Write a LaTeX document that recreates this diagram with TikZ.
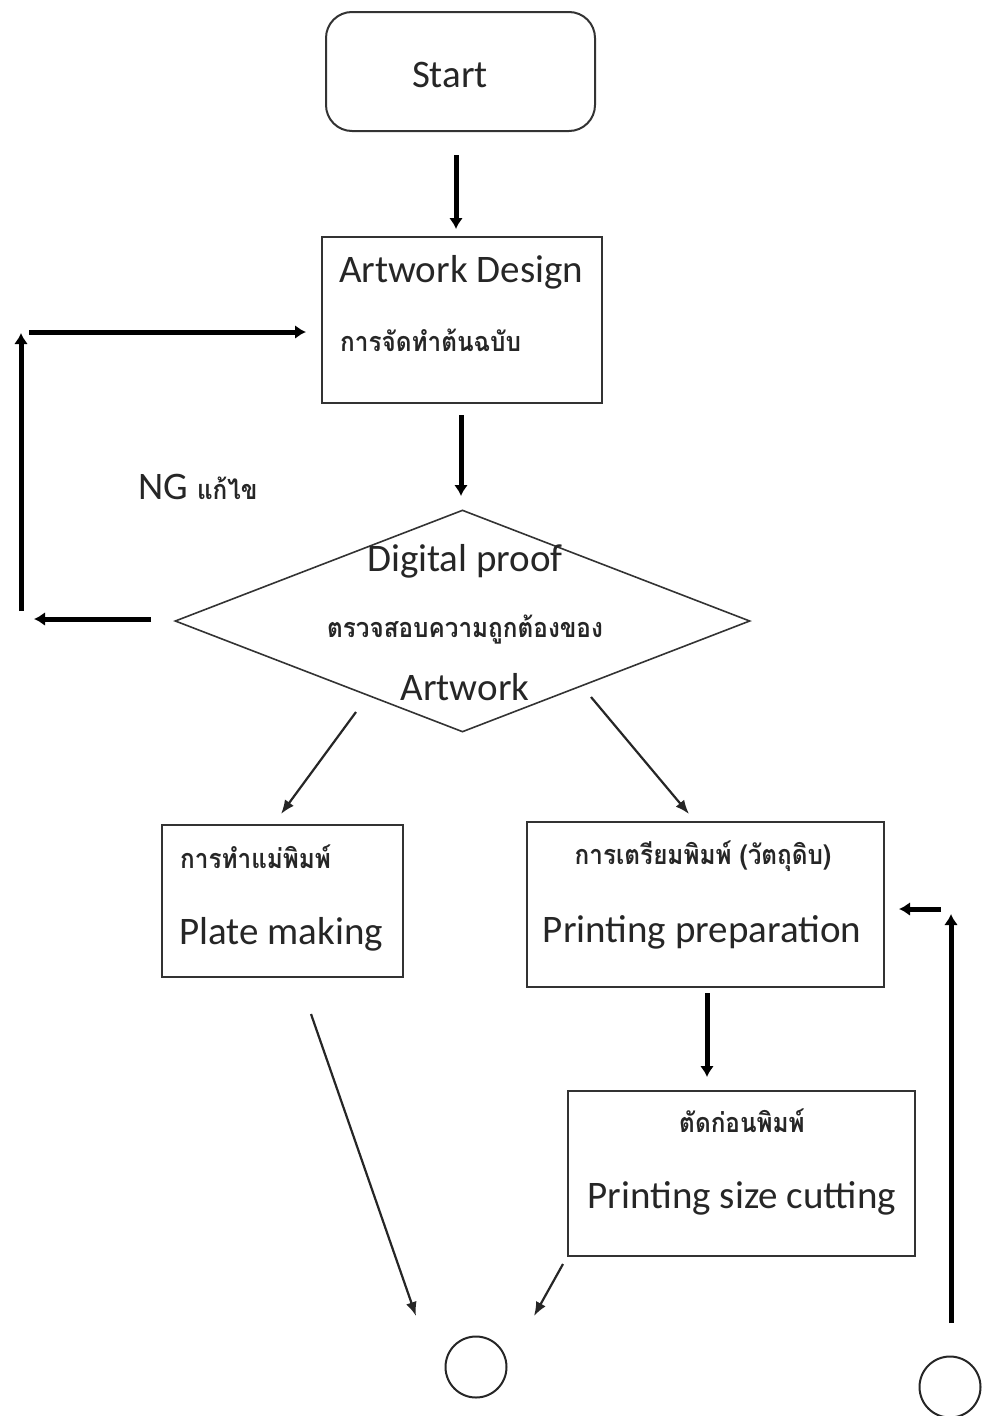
\documentclass[tikz,border=0pt]{standalone}
\usepackage{fontspec}
\setmainfont{Carlito}
\newfontfamily\thaifont[Script=Thai,FakeStretch=0.9]{Loma}
\usetikzlibrary{arrows.meta,shapes.geometric}
\tikzset{
  en/.style={font=\fontsize{39}{45}\selectfont, inner sep=0pt, text=black!85},
  th/.style={font=\thaifont\bfseries\fontsize{27}{32}\selectfont, inner sep=0pt, text=black!85},
  box/.style={draw=black!80, line width=2pt, inner sep=0pt},
  bold arrow/.style={line width=5pt, -{Latex[length=11pt,width=14pt]}},
  thin arrow/.style={line width=2.2pt, draw=black!85, -{Latex[length=14pt,width=11pt]}},
}
\begin{document}
\begin{tikzpicture}[x=1pt,y=-1pt]
\useasboundingbox (0,0) rectangle (987,1416);
% shapes
\node[box, rounded corners=26pt, minimum width=269pt, minimum height=119pt] (start) at (460.5,71.5) {};
\node[en] (starttxt) at (450,75) {Start};
\node[box, minimum width=280pt, minimum height=166pt] (art) at (462,320) {};
\node[en, anchor=west] (arttxt) at (339,272) {Artwork Design};
\node[th, anchor=west] (artth) at (340,340) {การจัดทำต้นฉบับ};
\node[draw=black!80, line width=1.6pt, shape=diamond, inner sep=0pt, minimum width=575pt, minimum height=222pt] (dec) at (462.5,621) {};
\node[en] (dectxt1) at (465,561) {Digital proof};
\node[th] (decth) at (465,630) {ตรวจสอบความถูกต้องของ};
\node[en] (dectxt2) at (465,687) {Artwork};
\node[inner sep=0pt, text=black!85] (ng) at (198,487) {\fontsize{39}{45}\selectfont NG \thaifont\bfseries\fontsize{27}{32}\selectfont แก้ไข};
\node[box, minimum width=241pt, minimum height=152pt] (plate) at (282.5,901) {};
\node[th, anchor=west] (plateth) at (180,857) {การทำแม่พิมพ์};
\node[en, anchor=west] (platetxt) at (179,934) {Plate making};
\node[box, minimum width=357pt, minimum height=165pt] (prep) at (705.5,904.5) {};
\node[th] (prepth) at (703,856) {การเตรียมพิมพ์ (วัตถุดิบ)};
\node[en] (preptxt) at (702,932) {Printing preparation};
\node[box, minimum width=347pt, minimum height=165pt] (cut) at (741.5,1173.5) {};
\node[th] (cutth) at (742,1121) {ตัดก่อนพิมพ์};
\node[en] (cuttxt) at (742,1198) {Printing size cutting};
\node[draw=black!85, line width=2pt, circle, minimum size=61pt, inner sep=0pt] (end1) at (476,1367) {};
\node[draw=black!85, line width=2pt, circle, minimum size=61pt, inner sep=0pt] (end2) at (950,1387) {};
% connector end points
\coordinate (a1) at (456,155); \coordinate (a2) at (456,229);
\coordinate (b1) at (461,415); \coordinate (b2) at (461,496);
\coordinate (n1) at (151,619); \coordinate (n2) at (34,619);
\coordinate (n3) at (21,611); \coordinate (n4) at (21,333);
\coordinate (n5) at (29,332); \coordinate (n6) at (306,332);
\coordinate (l1) at (356,712); \coordinate (l2) at (281,814);
\coordinate (r1) at (591,697); \coordinate (r2) at (689,814);
\coordinate (p1) at (707,993); \coordinate (p2) at (707,1077);
\coordinate (m1) at (311,1014); \coordinate (m2) at (416,1316);
\coordinate (c1) at (563,1264); \coordinate (c2) at (534,1316);
\coordinate (f1) at (951,1323); \coordinate (f2) at (951,914);
\coordinate (f3) at (941,909); \coordinate (f4) at (899,909);
% connectors
\draw[bold arrow] (a1) -- (a2);
\draw[bold arrow] (b1) -- (b2);
\draw[bold arrow] (n1) -- (n2);
\draw[bold arrow] (n3) -- (n4);
\draw[bold arrow] (n5) -- (n6);
\draw[thin arrow] (l1) -- (l2);
\draw[thin arrow] (r1) -- (r2);
\draw[bold arrow] (p1) -- (p2);
\draw[thin arrow] (m1) -- (m2);
\draw[thin arrow] (c1) -- (c2);
\draw[bold arrow] (f1) -- (f2);
\draw[bold arrow] (f3) -- (f4);
\end{tikzpicture}
\end{document}
